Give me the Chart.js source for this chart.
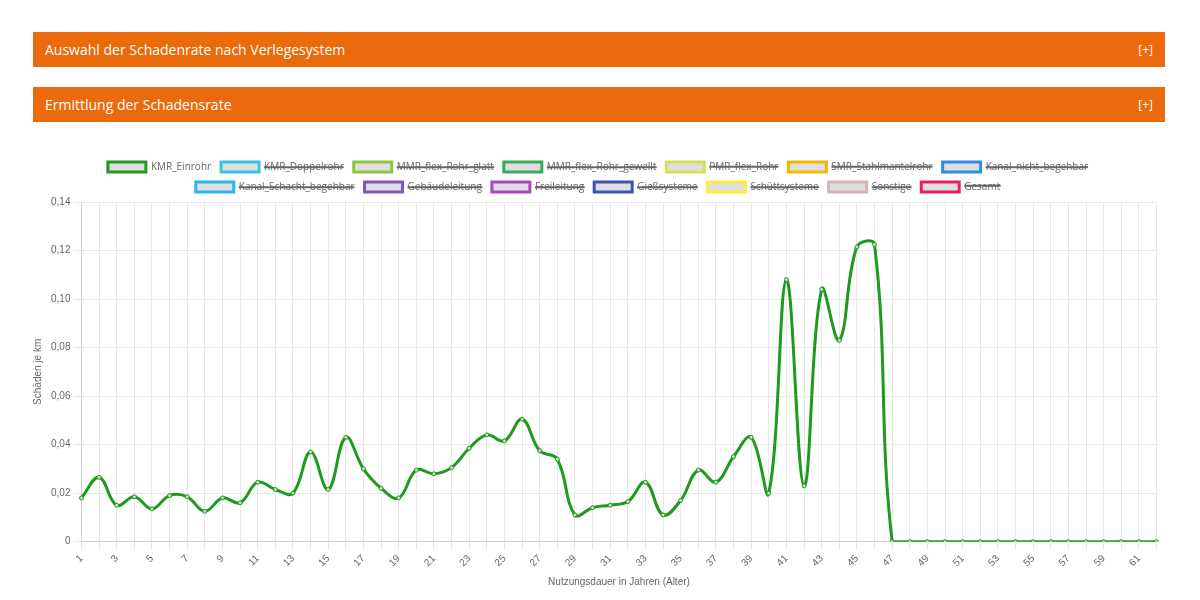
<!DOCTYPE html>
<html><head><meta charset="utf-8">
<script src="https://cdn.jsdelivr.net/npm/chart.js@4"></script>
<style>
body{margin:0;background:#fff;font-family:"Open Sans",Arial,sans-serif;}
.bar{position:absolute;left:33px;width:1132px;height:35px;background:#ea6a0c;color:#fff;font-size:14px;line-height:35px;box-sizing:border-box;padding:0 12px;}
.bar span{float:right;font-size:12px;}
#wrap{position:absolute;left:28px;top:152px;width:1140px;height:440px;}
</style></head><body>
<div class="bar" style="top:32px">Auswahl der Schadenrate nach Verlegesystem<span>[+]</span></div>
<div class="bar" style="top:87px">Ermittlung der Schadensrate<span>[+]</span></div>
<div id="wrap"><canvas id="c"></canvas></div>
<script>
const years = Array.from({length:62},(_,i)=>String(i+1));
const kmrEinrohr = [0.018,0.0265,0.015,0.0185,0.0135,0.019,0.0185,0.0125,0.018,0.016,0.0245,0.0215,0.020,0.037,0.0215,0.043,0.030,0.022,0.018,0.0295,0.028,0.0305,0.0385,0.044,0.0415,0.0505,0.0375,0.034,0.011,0.014,0.015,0.0165,0.0245,0.011,0.017,0.0295,0.0245,0.035,0.043,0.020,0.108,0.023,0.104,0.083,0.1215,0.1225,0,0,0,0,0,0,0,0,0,0,0,0,0,0,0,0];
const seriesNames = ["KMR_Einrohr","KMR_Doppelrohr","MMR_flex_Rohr_glatt","MMR_flex_Rohr_gewellt","PMR_flex_Rohr","SMR_Stahlmantelrohr","Kanal_nicht_begehbar","Kanal_Schacht_begehbar","Gebäudeleitung","Freileitung","Gießsysteme","Schüttsysteme","Sonstige","Gesamt"];
const seriesColors = ["#1f9a1f","#36c5e0","#8cc63f","#3aaa5a","#d4e157","#f5b800","#2e8de6","#29b6f6","#7e57c2","#ab47bc","#3f51b5","#ffeb3b","#d7b4b4","#e91e63"];
const datasets = seriesNames.map((n,i)=>({
  label:n,
  data: i===0 ? kmrEinrohr : [],
  hidden: i!==0,
  borderColor: seriesColors[i],
  backgroundColor: "rgba(220,220,220,0.9)",
  borderWidth: 3,
  pointRadius: 2,
  pointBackgroundColor: "rgba(200,220,200,1)",
  pointBorderColor: seriesColors[i],
  pointBorderWidth: 1,
  tension: 0.4,
  fill:false
}));
new Chart(document.getElementById('c'),{
  type:'line',
  data:{labels:years,datasets},
  options:{
    responsive:true,maintainAspectRatio:false,animation:false,
    plugins:{legend:{labels:{boxWidth:38,boxHeight:10,font:{size:10,family:"Open Sans"},color:"#666"}},tooltip:{enabled:false}},
    scales:{
      x:{title:{display:true,text:"Nutzungsdauer in Jahren (Alter)",font:{size:10},color:"#666"},
         ticks:{maxRotation:45,minRotation:45,autoSkip:false,font:{size:10},color:"#666",callback:function(v,i){return i%2===0?this.getLabelForValue(v):'';}},
         grid:{color:"#e8e8e8"}},
      y:{min:0,max:0.14,title:{display:true,text:"Schäden je km",font:{size:10},color:"#666"},
         ticks:{stepSize:0.02,font:{size:10},color:"#666",callback:v=>v===0?"0":v.toFixed(2).replace('.',',')},
         grid:{color:"#e8e8e8"}}
    }
  }
});
</script></body></html>
